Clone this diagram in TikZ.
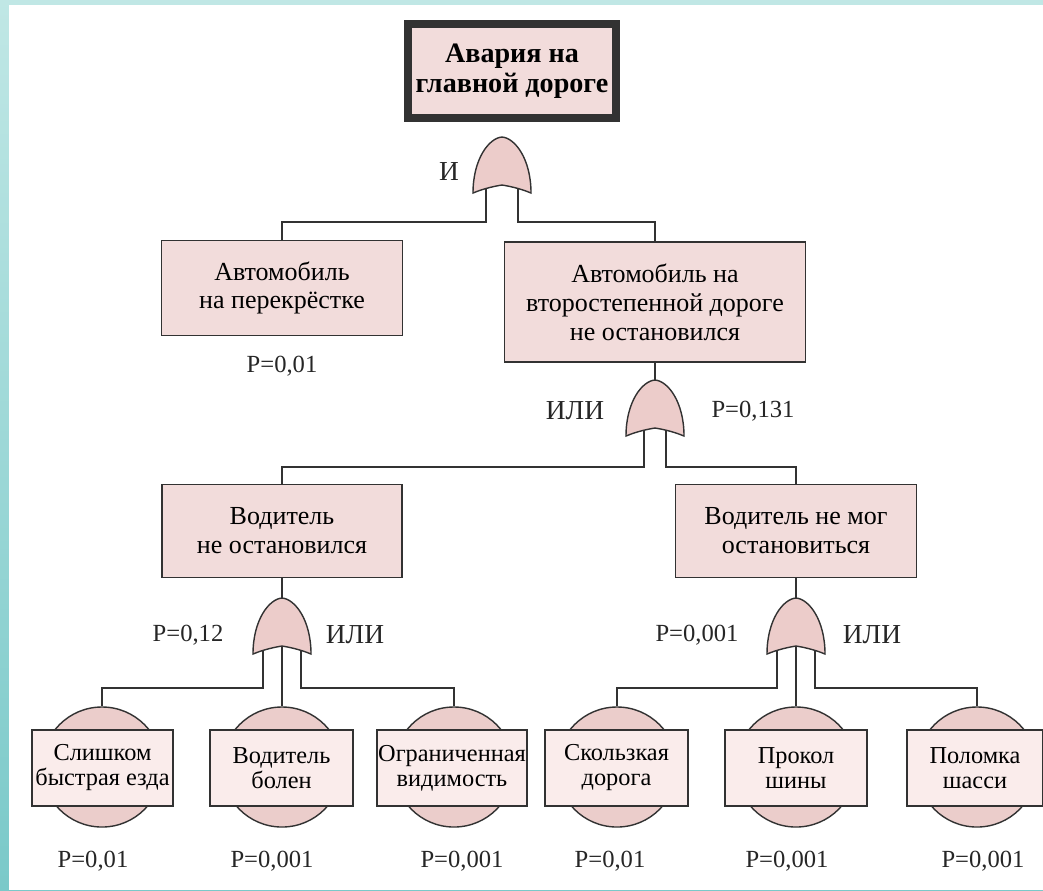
\documentclass[tikz,border=0pt]{standalone}
\usepackage{fontspec}
\setmainfont{Liberation Serif}
\usetikzlibrary{backgrounds}
\definecolor{wirecol}{RGB}{50,50,50}
\definecolor{boxpink}{RGB}{242,220,219}
\definecolor{evpink}{RGB}{250,236,235}
\definecolor{roundpink}{RGB}{235,205,203}
\definecolor{gatepink}{RGB}{236,204,202}
\definecolor{tealtop}{RGB}{192,231,229}
\definecolor{tealbot}{RGB}{122,201,201}

\tikzset{
  wire/.style={draw=wirecol, line width=1.1pt},
  event/.style={draw=wirecol, fill=boxpink, line width=1pt, align=center, inner sep=1pt,
    font=\fontsize{18.5}{20.5}\selectfont},
  basic/.style={draw=wirecol, fill=evpink, line width=1pt, align=center, inner sep=0pt,
    minimum height=1.9cm, font=\fontsize{17.3}{17.8}\selectfont},
  round/.style={circle, draw=wirecol, fill=roundpink, line width=1pt, minimum size=3cm, inner sep=0pt},
  lbl/.style={font=\fontsize{17.5}{20}\selectfont, text=black!85},
  gatelbl/.style={font=\fontsize{19.5}{20}\selectfont, text=black!85},
  pics/gate/.style={code={
    \coordinate (-top) at (0,0);
    \coordinate (-l) at (-#1,47);
    \coordinate (-r) at (#1,47);
    \coordinate (-c) at (0,46);
    \draw[draw=wirecol, fill=gatepink, line width=1pt]
      (-29,56) .. controls (-29,22) and (-13,1) .. (0,0)
      .. controls (13,1) and (29,22) .. (29,56)
      .. controls (17,51) and (6,49) .. (0,48)
      .. controls (-6,49) and (-17,51) .. (-29,56) -- cycle;
  }}
}

\begin{document}
\begin{tikzpicture}[x=0.025cm, y=-0.025cm]
  % frame
  \useasboundingbox (0,0) rectangle (1043,890);
  \begin{scope}[on background layer]
    \shade[top color=tealtop, bottom color=tealbot] (0,0) rectangle (1043,890);
    \fill[white] (9,5) rectangle (1043,890);
  \end{scope}

  % top event
  \node[event, line width=5.6pt, minimum width=5.18cm, minimum height=2.37cm,
    font=\bfseries\fontsize{20}{21.5}\selectfont] (top) at (512,71) {Авария на\\главной дороге};

  % intermediate events
  \node[event, minimum width=6.02cm, minimum height=2.37cm] (a) at (282,288) {Автомобиль\\на перекрёстке};
  \node[event, minimum width=7.52cm, minimum height=3cm] (b) at (655,302) {Автомобиль на\\второстепенной дороге\\не остановился};
  \node[event, minimum width=6cm, minimum height=2.32cm] (c) at (282,531) {Водитель\\не остановился};
  \node[event, minimum width=6.02cm, minimum height=2.32cm] (d) at (796,531) {Водитель не мог\\остановиться};

  % gates
  \pic (g1) at (502,137) {gate=16};
  \pic (g2) at (655,380) {gate=11};
  \pic (g3) at (282,598) {gate=19};
  \pic (g4) at (796,598) {gate=19};

  % basic events
  \node[round] (r1) at (102,767) {};
  \node[round] (r2) at (282,767) {};
  \node[round] (r3) at (454,767) {};
  \node[round] (r4) at (617,767) {};
  \node[round] (r5) at (796,767) {};
  \node[round] (r6) at (977,767) {};
  \node[basic, minimum width=3.52cm] (e1) at (102.5,768) {Слишком\\быстрая езда};
  \node[basic, minimum width=3.57cm] (e2) at (281.5,768) {Водитель\\болен};
  \node[basic, minimum width=3.75cm] (e3) at (452,768) {Ограниченная\\видимость};
  \node[basic, minimum width=3.57cm] (e4) at (616.5,768) {Скользкая\\дорога};
  \node[basic, minimum width=3.55cm] (e5) at (796,768) {Прокол\\шины};
  \node[basic, minimum width=3.4cm] (e6) at (975,768) {Поломка\\шасси};

  % buses
  \coordinate (bus1) at (0,222);
  \coordinate (bus2) at (0,467);
  \coordinate (bus3) at (0,688);

  \begin{scope}[on background layer]
    \draw[wire] (g1-l) |- (bus1 -| a.north) -- (a.north);
    \draw[wire] (g1-r) |- (bus1 -| b.north) -- (b.north);
    \draw[wire] (b.south) -- (g2-top);
    \draw[wire] (g2-l) |- (bus2 -| c.north) -- (c.north);
    \draw[wire] (g2-r) |- (bus2 -| d.north) -- (d.north);
    \draw[wire] (c.south) -- (g3-top);
    \draw[wire] (d.south) -- (g4-top);
    \draw[wire] (g3-l) |- (bus3 -| r1.north) -- (r1.north);
    \draw[wire] (g3-c) -- (r2.north);
    \draw[wire] (g3-r) |- (bus3 -| r3.north) -- (r3.north);
    \draw[wire] (g4-l) |- (bus3 -| r4.north) -- (r4.north);
    \draw[wire] (g4-c) -- (r5.north);
    \draw[wire] (g4-r) |- (bus3 -| r6.north) -- (r6.north);
  \end{scope}

  % labels
  \node[gatelbl] (l1) at (449,172) {И};
  \node[lbl] (pa) at (282,366) {P=0,01};
  \node[gatelbl] (l2) at (575,411) {ИЛИ};
  \node[lbl] (pb) at (753,411) {P=0,131};
  \node[lbl] (pc) at (188,635) {P=0,12};
  \node[gatelbl] (l3) at (355,635) {ИЛИ};
  \node[lbl] (pd) at (697,635) {P=0,001};
  \node[gatelbl] (l4) at (872,635) {ИЛИ};
  \node[lbl] (p1) at (93,861) {P=0,01};
  \node[lbl] (p2) at (272,861) {P=0,001};
  \node[lbl] (p3) at (462,861) {P=0,001};
  \node[lbl] (p4) at (610,861) {P=0,01};
  \node[lbl] (p5) at (787,861) {P=0,001};
  \node[lbl] (p6) at (983,861) {P=0,001};
\end{tikzpicture}
\end{document}
